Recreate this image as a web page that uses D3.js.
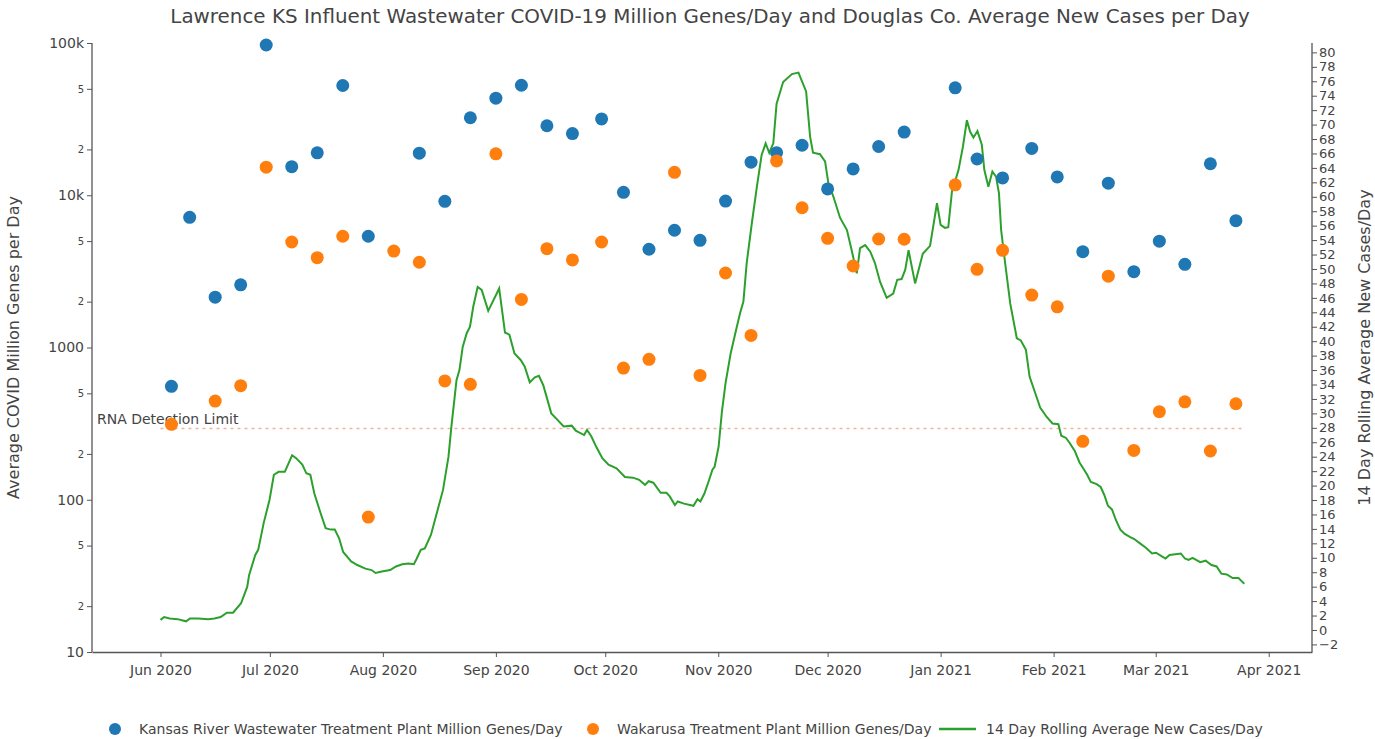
<!DOCTYPE html>
<html>
<head>
<meta charset="utf-8">
<script src="https://cdn.jsdelivr.net/npm/d3@7"></script>
<style>
  body { margin: 0; background: #fff; }
  svg { display: block; font-family: "DejaVu Sans", Verdana, sans-serif; }
</style>
</head>
<body>
<svg id="chart" width="1375" height="739"></svg>
<script>
// sample dates (weekly) for the two treatment plants
const sampleDates = ["2020-06-04","2020-06-09","2020-06-16","2020-06-23","2020-06-30","2020-07-07","2020-07-14","2020-07-21","2020-07-28","2020-08-04","2020-08-11","2020-08-18","2020-08-25","2020-09-01","2020-09-08","2020-09-15","2020-09-22","2020-09-30","2020-10-06","2020-10-13","2020-10-20","2020-10-27","2020-11-03","2020-11-10","2020-11-17","2020-11-24","2020-12-01","2020-12-08","2020-12-15","2020-12-22","2021-01-05","2021-01-11","2021-01-18","2021-01-26","2021-02-02","2021-02-09","2021-02-16","2021-02-23","2021-03-02","2021-03-09","2021-03-16","2021-03-23"];

// Kansas River WWTP, million genes/day
const kansasRiver = [556,7160,2140,2580,97000,15400,19000,52600,5380,null,18900,9120,32300,43400,52800,28600,25400,31700,10450,4420,5890,5060,9160,16500,19050,21300,11000,14900,20900,26000,50800,17300,13000,20300,13200,4260,12000,3150,4990,3520,16100,6810];

// Wakarusa plant, million genes/day
const wakarusa = [313,null,445,561,15300,4930,3890,5380,77,4300,3630,603,573,18700,2070,4460,3760,4930,733,836,14150,656,3085,1200,16800,8280,5210,3430,5160,5140,11700,3260,4350,2210,1850,242,2940,211,379,440,209,427];

// 14 day rolling average new cases/day, Douglas Co. (days after 2020-06-01)
const caseDay = [0,1,2.5,4.7,7,8.1,10.3,13.1,14.8,16.5,18.2,19.9,22.1,23.8,24.3,26,26.8,28.3,29.9,31.1,32.4,34.1,36.1,37.2,38.9,40,41.1,42.2,43.9,45.3,46.7,47.8,49,50.1,52.3,54,56.2,57.9,59,60.7,63,64.6,66.3,68,69.5,70.2,71.4,72.5,74.2,75.8,77.5,79,79.8,80.7,81.2,82,82.9,84,84.9,85.8,87,88.1,89.9,92.9,94.5,95.7,97.1,98.8,99.9,101.3,102.7,103.8,105,107.2,108.9,110.6,112.8,113.9,116.2,117,118.2,119.5,121.2,122.9,125.1,127.4,129.6,131.3,132.9,133.9,135.2,137.2,138.8,139.7,141.1,141.9,143.6,146.2,147.3,148.1,149.2,150.3,151.4,152,153.1,154,155,156.4,158,159,159.9,160.8,162.2,163.6,164.9,166,167,168.1,169,170.8,173.2,175,177.1,178.2,179,180.9,182.3,183.2,184.6,186.4,188.3,189.6,191,191.9,193.3,194.7,196,197.4,199.2,201,202.1,203.3,204.3,205.2,207,209.1,211.1,213,214,215.2,216.1,217.1,218.9,220.1,221.2,222.1,223,224.1,225.3,226,227.1,228.2,229.2,230,230.6,231.7,233.1,234.9,236,237.4,238.4,240.3,241.3,243.1,244.7,246.3,247.1,248.4,249.4,250.8,252.1,253.1,254.2,255.2,256.8,257.9,258.9,259.9,261,262.1,263.3,264.5,265.9,267.1,268.7,270.3,272,273.1,274.7,275.7,276.8,278.4,279.9,281,282,283.1,284.1,285.2,286.7,288.3,289.7,291,292.5,294.1,295.7,296.7,297.3];
const caseAvg = [1.4,1.8,1.6,1.5,1.2,1.6,1.6,1.5,1.6,1.8,2.4,2.4,3.7,6,7.6,10.4,11.1,14.8,18,21.5,21.9,21.9,24.2,23.8,22.9,21.7,21.5,18.9,16.2,14.1,13.9,13.9,12.7,10.8,9.5,9,8.5,8.3,7.9,8.1,8.3,8.8,9.1,9.2,9.1,9.8,11.1,11.3,13.2,16.2,19.4,24,28.2,32.3,34.6,36,39.2,41.1,42,44.8,47.5,47.1,44.2,47.3,41.2,40.9,38.3,37.4,36.5,34.3,35,35.2,33.9,30,29.1,28.2,28.3,27.6,27,27.7,26.8,25.4,23.8,22.9,22.4,21.2,21.1,20.8,20.1,20.6,20.4,19,19,18.5,17.3,17.8,17.5,17.2,18.1,17.8,18.9,20.5,22.2,22.6,25.4,30.2,34.2,38.3,41.8,43.9,45.5,50.8,56.3,61.4,65.8,67.4,66.1,67.4,72.9,75.9,77,77.2,74.6,68.3,66.1,65.9,64.9,61.9,60,57.1,55.4,52.6,49.4,52.9,53.3,52.4,50.8,48.2,46,46.6,48.5,48.6,49.9,52.6,48,52.1,53.2,59.1,56.1,55.7,55.8,60.7,63.7,66.9,70.6,69,68.2,69.1,67.2,63.7,61.4,63.5,62.8,60.5,55.4,50.8,45.2,40.4,40.1,38.8,35.1,32.3,30.8,29.5,28.6,28.5,26.9,26.6,25.9,24.8,23.2,22.4,21.5,20.5,20.2,19.8,18.7,17.2,16.7,15.2,13.9,13.3,12.9,12.6,12,11.4,10.6,10.7,10.2,9.9,10.4,10.5,10.6,9.9,9.7,10,9.7,9.4,9.6,9,8.8,7.8,7.7,7.2,7.2,6.7,6.4];

const rnaLimit = 294;
const leftTicks = [10,20,50,100,200,500,1000,2000,5000,10000,20000,50000,100000];
const majorLabels = {10: "10", 100: "100", 1000: "1000", 10000: "10k", 100000: "100k"};
const rightTicks = d3.range(-2, 81, 2);

const seriesNames = ["Kansas River Wastewater Treatment Plant Million Genes/Day",
                     "Wakarusa Treatment Plant Million Genes/Day",
                     "14 Day Rolling Average New Cases/Day"];
const colors = ["#1f77b4", "#ff7f0e", "#2ca02c"];

const svg = d3.select("#chart");
const plotL = 92, plotR = 1312, plotT = 43, plotB = 652;
const start = new Date(Date.UTC(2020, 5, 1));
const dayMs = 86400000;

const x = d3.scaleUtc()
    .domain([new Date(Date.UTC(2020, 4, 13, 5)), new Date(Date.UTC(2021, 3, 12, 21))])
    .range([plotL, plotR]);
const y = d3.scaleLog().domain([10, 100000]).range([plotB, plotT]);
const y2 = d3.scaleLinear().domain([-3.05, 81.3]).range([plotB, plotT]);

const parse = d3.utcParse("%Y-%m-%d");

// title
svg.append("text")
    .attr("x", 710).attr("y", 23)
    .attr("text-anchor", "middle")
    .attr("font-size", 19.9).attr("fill", "#444")
    .text("Lawrence KS Influent Wastewater COVID-19 Million Genes/Day and Douglas Co. Average New Cases per Day");

// x axis
const xAxis = svg.append("g")
    .attr("transform", `translate(0,${plotB})`)
    .call(d3.axisBottom(x).ticks(d3.utcMonth.every(1)).tickFormat(d3.utcFormat("%b %Y")).tickSize(5).tickSizeOuter(0));

// left axis
const yAxis = svg.append("g")
    .attr("transform", `translate(${plotL},0)`)
    .call(d3.axisLeft(y).tickValues(leftTicks)
        .tickFormat(d => majorLabels[d] || String(d).charAt(0)).tickSize(5).tickSizeOuter(0));
yAxis.selectAll(".tick text")
    .attr("font-size", d => majorLabels[d] ? 14 : 10);

// right axis
const y2Axis = svg.append("g")
    .attr("transform", `translate(${plotR},0)`)
    .call(d3.axisRight(y2).tickValues(rightTicks).tickSize(5).tickSizeOuter(0));
y2Axis.selectAll(".tick text").attr("font-size", 13).attr("x", 7);

[xAxis, yAxis, y2Axis].forEach(g => {
    g.select(".domain").attr("stroke", "#555").attr("stroke-width", 1.3);
    g.selectAll(".tick line").attr("stroke", "#555");
    g.selectAll(".tick text").attr("fill", "#444").attr("font-family", "DejaVu Sans, Verdana, sans-serif");
});
xAxis.selectAll(".tick text").attr("font-size", 14).attr("dy", "1.1em");
yAxis.select(".domain").attr("d", `M0,${plotB}V${plotT}`);
y2Axis.select(".domain").attr("d", `M0,${plotB}V${plotT}`);

// axis titles
svg.append("text")
    .attr("transform", `translate(19,${(plotT + plotB) / 2}) rotate(-90)`)
    .attr("text-anchor", "middle").attr("font-size", 16).attr("fill", "#444")
    .text("Average COVID Million Genes per Day");
svg.append("text")
    .attr("transform", `translate(1370,${(plotT + plotB) / 2}) rotate(-90)`)
    .attr("text-anchor", "middle").attr("font-size", 16).attr("fill", "#444")
    .text("14 Day Rolling Average New Cases/Day");

// RNA detection limit
const firstCase = new Date(start.getTime() + caseDay[0] * dayMs);
const lastCase = new Date(start.getTime() + caseDay[caseDay.length - 1] * dayMs);
svg.append("line")
    .attr("x1", x(firstCase)).attr("x2", x(lastCase))
    .attr("y1", y(rnaLimit)).attr("y2", y(rnaLimit))
    .attr("stroke", "#efb49b").attr("stroke-width", 1.5).attr("stroke-dasharray", "3,4");
svg.append("text")
    .attr("x", 97).attr("y", y(rnaLimit) - 4)
    .attr("font-size", 14).attr("fill", "#444")
    .text("RNA Detection Limit");

// case line
const caseData = caseDay.map((d, i) => ({date: new Date(start.getTime() + d * dayMs), v: caseAvg[i]}));
svg.append("path")
    .datum(caseData)
    .attr("fill", "none").attr("stroke", colors[2]).attr("stroke-width", 2)
    .attr("d", d3.line().x(d => x(d.date)).y(d => y2(d.v)));

// wastewater points
[kansasRiver, wakarusa].forEach((vals, k) => {
    const pts = sampleDates.map((d, i) => ({date: parse(d), v: vals[i]})).filter(d => d.v != null);
    svg.append("g").selectAll("circle")
        .data(pts).enter().append("circle")
        .attr("cx", d => x(d.date)).attr("cy", d => y(d.v))
        .attr("r", 6.5).attr("fill", colors[k]);
});

// legend
const legend = svg.append("g").attr("font-size", 14).attr("fill", "#444");
const legendX = [115, 593, 939];
seriesNames.forEach((name, i) => {
    const g = legend.append("g").attr("transform", `translate(${legendX[i]},729)`);
    if (i < 2) {
        g.append("circle").attr("r", 6).attr("fill", colors[i]);
        g.append("text").attr("x", 24).attr("dy", "0.35em").attr("fill", "#444").text(name);
    } else {
        g.append("line").attr("x1", 0).attr("x2", 37).attr("stroke", colors[2]).attr("stroke-width", 2.5);
        g.append("text").attr("x", 47).attr("dy", "0.35em").attr("fill", "#444").text(name);
    }
});
</script>
</body>
</html>
